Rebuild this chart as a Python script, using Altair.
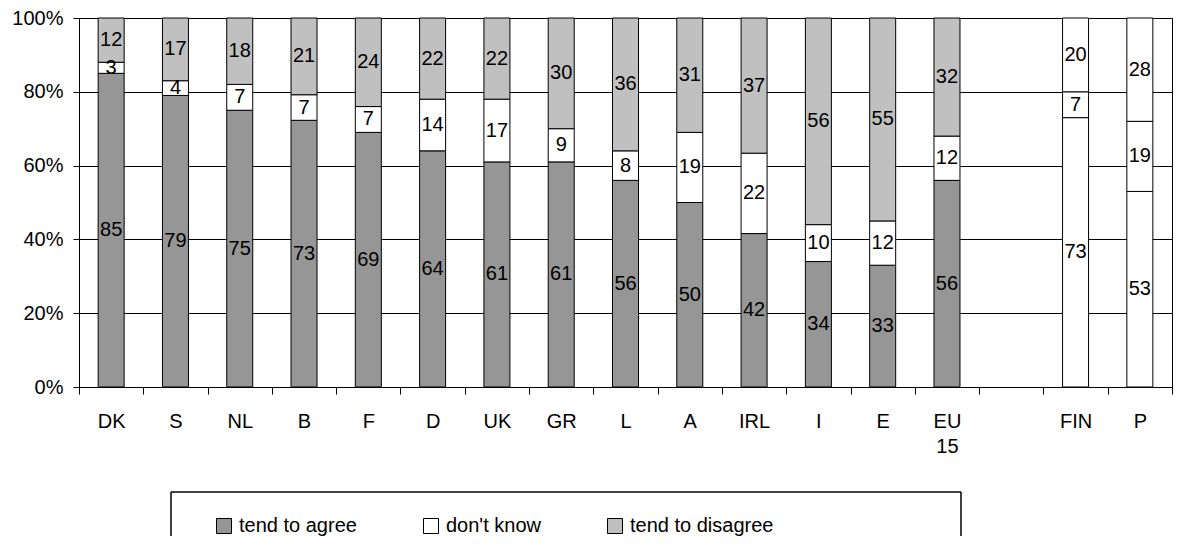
import altair as alt
import pandas as pd

countries = ["DK", "S", "NL", "B", "F", "D", "UK", "GR", "L", "A", "IRL", "I", "E", "EU 15", " ", "FIN", "P"]
agree = [85, 79, 75, 73, 69, 64, 61, 61, 56, 50, 42, 34, 33, 56, None, 73, 53]
dont_know = [3, 4, 7, 7, 7, 14, 17, 9, 8, 19, 22, 10, 12, 12, None, 7, 19]
disagree = [12, 17, 18, 21, 24, 22, 22, 30, 36, 31, 37, 56, 55, 32, None, 20, 28]
white_countries = ["FIN", "P"]

series_names = ["tend to agree", "don't know", "tend to disagree"]
series_colors = ["#969696", "#FFFFFF", "#C0C0C0"]

rows = []
for i, c in enumerate(countries):
    if agree[i] is None:
        continue
    for k, (s, v) in enumerate(zip(series_names, [agree[i], dont_know[i], disagree[i]])):
        rows.append(dict(country=c, series=s, value=v, order=k,
                         fillkey=("blank" if c in white_countries else s)))
df = pd.DataFrame(rows)

FONT = "Liberation Sans"

x_enc = alt.X(
    "country:N",
    sort=countries,
    scale=alt.Scale(domain=countries, paddingInner=0, paddingOuter=0),
    axis=alt.Axis(title=None, labelAngle=0, labelFontSize=20, labelFont=FONT, labelColor="black",
                  tickColor="black", domainColor="black", tickSize=7, tickBand="extent",
                  labelPadding=17, labelExpr="split(datum.label, ' ')", labelLineHeight=25),
)

y_axis = alt.Axis(values=[0, 0.2, 0.4, 0.6, 0.8, 1.0], format=".0%", grid=True,
                  gridColor="black", gridWidth=1, tickColor="black", domainColor="black",
                  tickSize=6, labelPadding=10, labelFontSize=20, labelFont=FONT,
                  labelColor="black", title=None)
y_scale = alt.Scale(domain=[0, 1], nice=False)

base = alt.Chart(df).transform_stack(
    stack="value", groupby=["country"], as_=["y0", "y1"], offset="normalize",
    sort=[alt.SortField("order", order="ascending")],
).transform_calculate(mid="(datum.y0 + datum.y1) / 2")

bars = base.mark_bar(size=26, stroke="black", strokeWidth=1).encode(
    x=x_enc,
    y=alt.Y("y0:Q", scale=y_scale, axis=y_axis),
    y2="y1:Q",
    color=alt.Color(
        "fillkey:N",
        scale=alt.Scale(domain=series_names + ["blank"], range=series_colors + ["#FFFFFF"]),
        legend=alt.Legend(values=series_names, orient="none", legendX=135, legendY=498,
                          direction="horizontal", columns=3, columnPadding=64, title=None,
                          labelFontSize=20, labelFont=FONT, labelColor="black", labelLimit=400,
                          symbolType="square", symbolSize=225, symbolStrokeColor="black",
                          symbolStrokeWidth=1, labelOffset=5, padding=0),
    ),
)

labels = base.mark_text(fontSize=20, font=FONT, color="black").encode(
    x=x_enc,
    y=alt.Y("mid:Q", scale=y_scale, axis=y_axis),
    text="value:Q",
)

one = alt.Data(values=[{"k": 1}])
box_top = alt.Chart(one).mark_rule(color="black", strokeWidth=1.5).encode(
    x=alt.value(92), x2=alt.value(882), y=alt.value(474))
box_left = alt.Chart(one).mark_rule(color="black", strokeWidth=1.5).encode(
    x=alt.value(92), y=alt.value(474), y2=alt.value(518))
box_right = alt.Chart(one).mark_rule(color="black", strokeWidth=1.5).encode(
    x=alt.value(882), y=alt.value(474), y2=alt.value(518))

chart = alt.layer(bars, labels, box_top, box_left, box_right).properties(
    width=1093, height=369,
    padding={"left": 3, "top": 0, "right": 0, "bottom": 0},
).configure_view(stroke="black", strokeWidth=1)

chart.save("out.html", embed_options={"renderer": "svg", "actions": False})
